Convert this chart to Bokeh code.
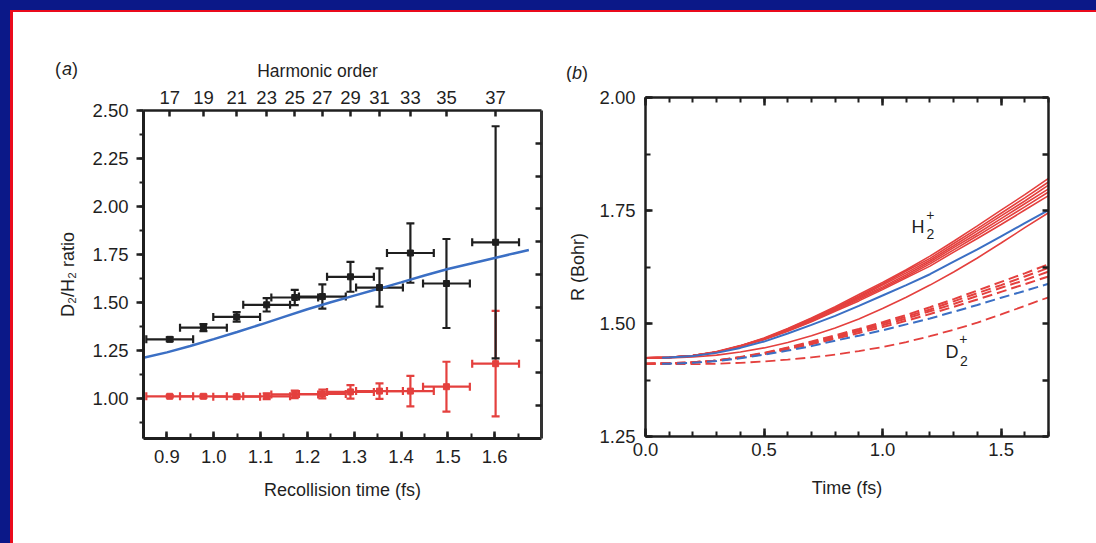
from bokeh.plotting import figure
from bokeh.models import (Range1d, LinearAxis, SingleIntervalTicker, FixedTicker,
                          NumeralTickFormatter, ColumnDataSource, Whisker, TeeHead,
                          Label, Spacer, CustomLabelingPolicy)
from bokeh.core.properties import value
from bokeh.layouts import row, column
from bokeh.embed import file_html
from bokeh.resources import INLINE

FONT = "Liberation Sans"
INK = "#1f1f1f"
RED = "#e4403e"
BLUE = "#3b6fc4"
FRAME_BLUE = "#0b1888"
FRAME_RED = "#ea0a1c"
TICK_FS = "18.5px"

# ---------------- panel (a) data ----------------
harmonic_orders = ["17", "19", "21", "23", "25", "27", "29", "31", "33", "35", "37"]
recollision_time = [0.906, 0.978, 1.049, 1.113, 1.173, 1.232, 1.292, 1.354, 1.420, 1.497, 1.602]
time_err = [0.05, 0.05, 0.05, 0.05, 0.05, 0.05, 0.05, 0.05, 0.05, 0.05, 0.05]
d2h2_ratio = [1.307, 1.368, 1.424, 1.487, 1.525, 1.530, 1.633, 1.577, 1.757, 1.598, 1.813]
d2h2_err = [0.010, 0.018, 0.025, 0.035, 0.040, 0.063, 0.078, 0.100, 0.155, 0.232, 0.605]
h2h2_ratio = [1.010, 1.010, 1.008, 1.010, 1.020, 1.022, 1.033, 1.037, 1.037, 1.060, 1.180]
h2h2_err = [0.006, 0.008, 0.010, 0.015, 0.020, 0.023, 0.035, 0.040, 0.080, 0.130, 0.275]

theory_time = [0.85, 0.90, 0.95, 1.00, 1.05, 1.10, 1.15, 1.20, 1.25, 1.30,
               1.35, 1.40, 1.45, 1.50, 1.55, 1.60, 1.65, 1.673]
theory_ratio = [1.211, 1.239, 1.272, 1.308, 1.345, 1.384, 1.424, 1.464, 1.500, 1.535,
                1.569, 1.604, 1.640, 1.674, 1.702, 1.731, 1.760, 1.773]

# ---------------- panel (b) data ----------------
t_grid = [0.0, 0.1, 0.2, 0.3, 0.4, 0.5, 0.6, 0.7, 0.8, 0.9,
          1.0, 1.1, 1.2, 1.3, 1.4, 1.5, 1.6, 1.7]
t_blue = [0.07, 0.1, 0.2, 0.3, 0.4, 0.5, 0.6, 0.7, 0.8, 0.9,
          1.0, 1.1, 1.2, 1.3, 1.4, 1.5, 1.6, 1.7]

h2_red_lines = [
    [1.424, 1.425, 1.429, 1.436, 1.449, 1.464, 1.483, 1.504, 1.527, 1.550, 1.575, 1.601, 1.627, 1.658, 1.688, 1.719, 1.751, 1.783],
    [1.424, 1.425, 1.429, 1.437, 1.449, 1.465, 1.484, 1.505, 1.529, 1.553, 1.578, 1.604, 1.632, 1.663, 1.694, 1.726, 1.758, 1.791],
    [1.424, 1.425, 1.429, 1.437, 1.450, 1.466, 1.485, 1.507, 1.531, 1.556, 1.581, 1.608, 1.636, 1.668, 1.699, 1.732, 1.765, 1.798],
    [1.424, 1.425, 1.429, 1.437, 1.450, 1.466, 1.487, 1.509, 1.533, 1.558, 1.585, 1.612, 1.640, 1.672, 1.705, 1.738, 1.771, 1.806],
    [1.424, 1.425, 1.429, 1.437, 1.451, 1.467, 1.488, 1.511, 1.535, 1.561, 1.588, 1.616, 1.644, 1.677, 1.710, 1.744, 1.778, 1.813],
    [1.424, 1.425, 1.429, 1.438, 1.451, 1.468, 1.489, 1.512, 1.537, 1.564, 1.591, 1.619, 1.649, 1.682, 1.716, 1.751, 1.785, 1.821],
]
h2_red_low = [1.424, 1.424, 1.426, 1.430, 1.437, 1.446, 1.458, 1.473, 1.490, 1.510,
              1.533, 1.558, 1.585, 1.614, 1.645, 1.678, 1.712, 1.745]
h2_blue = [1.424, 1.425, 1.428, 1.435, 1.446, 1.460, 1.478, 1.497, 1.517, 1.539,
           1.562, 1.585, 1.609, 1.637, 1.664, 1.693, 1.722, 1.751]

d2_red_lines = [
    [1.411, 1.412, 1.414, 1.418, 1.424, 1.432, 1.443, 1.454, 1.466, 1.479, 1.492, 1.506, 1.521, 1.537, 1.553, 1.570, 1.587, 1.604],
    [1.411, 1.412, 1.414, 1.418, 1.425, 1.434, 1.444, 1.456, 1.469, 1.483, 1.496, 1.511, 1.527, 1.543, 1.561, 1.579, 1.596, 1.615],
    [1.411, 1.412, 1.414, 1.418, 1.425, 1.434, 1.446, 1.458, 1.471, 1.485, 1.500, 1.515, 1.531, 1.549, 1.567, 1.585, 1.604, 1.623],
    [1.411, 1.412, 1.414, 1.418, 1.426, 1.435, 1.447, 1.460, 1.474, 1.488, 1.503, 1.519, 1.536, 1.554, 1.573, 1.592, 1.611, 1.631],
]
d2_red_low = [1.410, 1.410, 1.410, 1.411, 1.413, 1.416, 1.420, 1.425, 1.431, 1.439,
              1.448, 1.459, 1.472, 1.486, 1.502, 1.520, 1.539, 1.558]
d2_blue = [1.411, 1.411, 1.413, 1.417, 1.423, 1.431, 1.440, 1.450, 1.462, 1.473,
           1.485, 1.498, 1.511, 1.526, 1.541, 1.557, 1.572, 1.588]

# ---------------- header texts (panel tags and top-axis title) ----------------
tag_a = ["(", "a", ")"]
tag_b = ["(", "b", ")"]
top_axis_title = "Harmonic order"

NO_LABELS = "for (const i of indices) { indices.unset(i) }\nreturn indices"


def style_axis(ax, size=TICK_FS):
    ax.axis_line_color = INK
    ax.axis_line_width = 2.5
    ax.major_tick_line_color = INK
    ax.major_tick_line_width = 2.5
    ax.minor_tick_line_color = INK
    ax.minor_tick_line_width = 2
    ax.major_label_text_font = FONT
    ax.major_label_text_font_size = size
    ax.major_label_text_color = INK
    ax.axis_label_text_font = FONT
    ax.axis_label_text_font_size = "18px"
    ax.axis_label_text_font_style = "normal"
    ax.axis_label_text_color = INK


def hide_labels(ax):
    ax.major_label_policy = CustomLabelingPolicy(code=NO_LABELS)
    ax.major_label_text_font_size = "1px"
    ax.major_label_standoff = 0


def label(p, x, y, text, size="18px", style="normal"):
    p.add_layout(Label(x=x, y=y, text=text, text_font=FONT, text_font_size=size,
                       text_align="center", text_baseline="middle", text_color=INK,
                       text_font_style=style))


def base_fig(**kw):
    p = figure(output_backend="svg", toolbar_location=None,
               x_axis_location=None, y_axis_location=None, **kw)
    p.grid.visible = False
    p.outline_line_color = None
    p.background_fill_color = "white"
    p.border_fill_color = "white"
    return p


# ================= header strip (y grows downward, pixels) =================
HEAD_H = 70
head = base_fig(width=1083, height=HEAD_H, x_range=Range1d(0, 1083), y_range=Range1d(HEAD_H, 0),
                min_border_left=0, min_border_right=0, min_border_top=0, min_border_bottom=0)
for xs, txts, ym in (([44.5, 53.5, 61.5], tag_a, 56.5), ([555.5, 563.5, 571.5], tag_b, 60.5)):
    head.text([xs[0], xs[2]], [ym, ym], text=[txts[0], txts[2]], text_font=value(FONT),
              text_font_size="18px", text_align="center", text_baseline="middle",
              text_color=INK)
    head.text([xs[1]], [ym], text=[txts[1]], text_font=value(FONT), text_font_size="18px",
              text_font_style="italic", text_align="center", text_baseline="middle",
              text_color=INK)
head.text([304], [58.5], text=[top_axis_title], text_font=value(FONT), text_font_size="17.5px",
          text_align="center", text_baseline="middle", text_color=INK)

# ================= panel (a) =================
p1 = base_fig(width=535, height=531 - HEAD_H, x_range=Range1d(0.85, 1.7),
              y_range=Range1d(0.79, 2.5),
              min_border_left=130, min_border_right=7, min_border_top=28, min_border_bottom=105)
p1.extra_y_ranges = {"r": Range1d(0, 10)}

ax = LinearAxis(ticker=SingleIntervalTicker(interval=0.1, num_minor_ticks=2),
                formatter=NumeralTickFormatter(format="0.0"),
                axis_label="Recollision time (fs)")
style_axis(ax)
ax.major_tick_in, ax.major_tick_out = 7, 0
ax.minor_tick_in, ax.minor_tick_out = 5, 0
ax.major_label_standoff = 11
ax.axis_label_standoff = 14
ax.axis_line_width = 3
p1.add_layout(ax, "below")

ax = LinearAxis(ticker=SingleIntervalTicker(interval=0.25, num_minor_ticks=2),
                formatter=NumeralTickFormatter(format="0.00"),
                axis_label="D₂/H₂ ratio")
style_axis(ax)
ax.major_tick_in, ax.major_tick_out = 0, 7
ax.minor_tick_in, ax.minor_tick_out = 0, 4
ax.major_label_standoff = 8
ax.axis_label_standoff = 11
ax.axis_line_width = 3
p1.add_layout(ax, "left")

ax = LinearAxis(ticker=FixedTicker(ticks=recollision_time, minor_ticks=[]),
                major_label_overrides={t: h for t, h in zip(recollision_time, harmonic_orders)})
style_axis(ax)
ax.major_tick_in, ax.major_tick_out = 6, 0
ax.major_label_standoff = 7
p1.add_layout(ax, "above")

ax = LinearAxis(y_range_name="r", ticker=FixedTicker(ticks=[1, 2, 3, 4, 5, 6, 7, 8, 9], minor_ticks=[]))
style_axis(ax)
ax.axis_line_color = "#333333"
ax.axis_line_width = 3
ax.major_tick_in, ax.major_tick_out = 6, 0
hide_labels(ax)
p1.add_layout(ax, "right")

p1.line(theory_time, theory_ratio, line_color=BLUE, line_width=2.5)

src_r = ColumnDataSource(dict(
    x=recollision_time, y=h2h2_ratio,
    xl=[a - b for a, b in zip(recollision_time, time_err)],
    xu=[a + b for a, b in zip(recollision_time, time_err)],
    yl=[a - b for a, b in zip(h2h2_ratio, h2h2_err)],
    yu=[a + b for a, b in zip(h2h2_ratio, h2h2_err)]))
src_k = ColumnDataSource(dict(
    x=recollision_time, y=d2h2_ratio,
    xl=[a - b for a, b in zip(recollision_time, time_err)],
    xu=[a + b for a, b in zip(recollision_time, time_err)],
    yl=[a - b for a, b in zip(d2h2_ratio, d2h2_err)],
    yu=[a + b for a, b in zip(d2h2_ratio, d2h2_err)]))

for src, col in ((src_r, RED), (src_k, INK)):
    for dim, base, lo, hi in (("height", "x", "yl", "yu"), ("width", "y", "xl", "xu")):
        w = Whisker(source=src, base=base, lower=lo, upper=hi, dimension=dim,
                    line_color=col, line_width=2.2,
                    lower_head=TeeHead(size=8, line_color=col, line_width=2.2),
                    upper_head=TeeHead(size=8, line_color=col, line_width=2.2))
        p1.add_layout(w)
    p1.scatter("x", "y", source=src, marker="square", size=6, fill_color=col, line_color=col)

# ================= panel (b) =================
p2 = base_fig(width=548, height=531 - HEAD_H, x_range=Range1d(0, 1.7), y_range=Range1d(1.25, 2.0),
              min_border_left=97, min_border_right=48, min_border_top=15, min_border_bottom=107)

ax = LinearAxis(ticker=SingleIntervalTicker(interval=0.5, num_minor_ticks=5),
                formatter=NumeralTickFormatter(format="0.0"), axis_label="Time (fs)")
style_axis(ax)
ax.major_tick_in, ax.major_tick_out = 8, 0
ax.minor_tick_in, ax.minor_tick_out = 5, 0
ax.major_label_standoff = 6
ax.axis_label_standoff = 19
p2.add_layout(ax, "below")

ax = LinearAxis(ticker=SingleIntervalTicker(interval=0.5, num_minor_ticks=5))
style_axis(ax)
ax.major_tick_in, ax.major_tick_out = 8, 0
ax.minor_tick_in, ax.minor_tick_out = 5, 0
hide_labels(ax)
p2.add_layout(ax, "above")

ax = LinearAxis(ticker=SingleIntervalTicker(interval=0.25, num_minor_ticks=2),
                formatter=NumeralTickFormatter(format="0.00"), axis_label="R (Bohr)")
style_axis(ax)
ax.major_tick_in, ax.major_tick_out = 7, 0
ax.minor_tick_in, ax.minor_tick_out = 5, 0
ax.major_label_standoff = 10
ax.axis_label_standoff = 8
p2.add_layout(ax, "left")

ax = LinearAxis(ticker=SingleIntervalTicker(interval=0.125, num_minor_ticks=0))
style_axis(ax)
ax.major_tick_in, ax.major_tick_out = 6, 0
hide_labels(ax)
p2.add_layout(ax, "right")

for ys in d2_red_lines:
    p2.line(t_grid, ys, line_color=RED, line_width=2, line_dash="10 5")
p2.line(t_grid, d2_red_low, line_color=RED, line_width=1.8, line_dash="10 5")
p2.line(t_blue, d2_blue, line_color=BLUE, line_width=2, line_dash="10 5")
for ys in h2_red_lines:
    p2.line(t_grid, ys, line_color=RED, line_width=1.6)
p2.line(t_grid, h2_red_low, line_color=RED, line_width=1.6)
p2.line(t_blue, h2_blue, line_color=BLUE, line_width=2)

label(p2, 1.149, 1.7135, "H")
label(p2, 1.202, 1.6976, "2", size="14px")
label(p2, 1.202, 1.741, "+", size="14px")
label(p2, 1.2927, 1.4369, "D")
label(p2, 1.3433, 1.4166, "2", size="14px")
label(p2, 1.341, 1.4668, "+", size="14px")

# ================= frame =================
layout = column(
    Spacer(width=1096, height=10, styles={"background-color": FRAME_BLUE}),
    row(
        Spacer(width=10, height=533, styles={"background-color": FRAME_BLUE}),
        column(
            Spacer(width=1086, height=2, styles={"background-color": FRAME_RED}),
            row(
                Spacer(width=3, height=531, styles={"background-color": FRAME_RED}),
                column(
                    head,
                    row(column(p1), column(p2)),
                ),
            ),
        ),
    ),
)

open("out.html", "w").write(file_html(layout, INLINE))
